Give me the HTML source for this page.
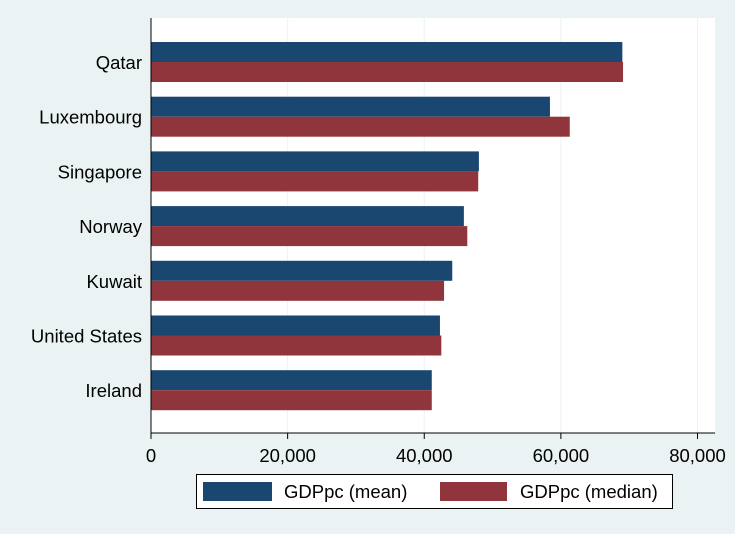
<!DOCTYPE html>
<html><head><meta charset="utf-8"><style>
html,body{margin:0;padding:0;background:#eaf2f3;}
svg{display:block;font-family:"Liberation Sans",Arial,sans-serif;}
</style></head><body>
<svg id="chart" width="735" height="534" viewBox="0 0 735 534" xmlns="http://www.w3.org/2000/svg">
<rect x="0" y="0" width="735" height="534" fill="#eaf2f3"/>
<rect x="151" y="18" width="564" height="415" fill="#ffffff"/>
<g id="grid"></g><g id="bars"></g><g id="axes"></g>
<g>
<rect x="196.5" y="474.5" width="476" height="34" fill="#fff" stroke="#000" stroke-width="1"/>
<g>
<rect x="203" y="482" width="69" height="19" fill="#1a476f"/>
<text x="284" y="498" font-size="18.5" fill="#000">GDPpc (mean)</text></g>
<g>
<rect x="440" y="482" width="67" height="19" fill="#90353b"/>
<text x="520" y="498" font-size="18.5" fill="#000">GDPpc (median)</text></g>
</g>
</svg>
<script>
const categories = ["Qatar","Luxembourg","Singapore","Norway","Kuwait","United States","Ireland"];
const meanValues = [69000,58400,48000,45800,44100,42300,41100];
const medianValues = [69100,61300,47900,46300,42900,42500,41100];
const xTicks = [0,20000,40000,60000,80000];
const xTickLabels = ["0","20,000","40,000","60,000","80,000"];

const NS="http://www.w3.org/2000/svg";
const x0=151, pxPer=(697.5-151)/80000;
function xs(v){return x0+v*pxPer;}
function yc(i){return 62+i*54.7;}
function mk(tag,attrs,parent){const e=document.createElementNS(NS,tag);for(const k in attrs)e.setAttribute(k,attrs[k]);parent.appendChild(e);return e;}
const grid=document.getElementById('grid'),bars=document.getElementById('bars'),axes=document.getElementById('axes');
xTicks.forEach((t,i)=>{
  const x=xs(t);
  if(i>0){const g=mk('line',{x1:x,x2:x,y1:18,y2:433,stroke:'#eef2f2','stroke-width':1},grid);
  
  }
  const tk=mk('line',{x1:x,x2:x,y1:433,y2:439,stroke:'#000','stroke-width':1},axes);
  
  
  const tx=mk('text',{x:x,y:462,'font-size':18.5,'text-anchor':'middle',fill:'#000'},axes);
  tx.textContent=xTickLabels[i];
  
  
});
categories.forEach((c,i)=>{
  const y=yc(i);
  const b1=mk('rect',{x:x0,y:y-20,width:xs(meanValues[i])-x0,height:20,fill:'#1a476f'},bars);
  
  
  const b2=mk('rect',{x:x0,y:y,width:xs(medianValues[i])-x0,height:20,fill:'#90353b'},bars);
  
  
  const lb=mk('text',{x:142,y:y+7,'font-size':18.5,'text-anchor':'end',fill:'#000'},axes);
  lb.textContent=c;
  
  
});
const ya=mk('line',{x1:151,x2:151,y1:18,y2:433,stroke:'#000','stroke-width':1},axes);


const xa=mk('line',{x1:151,x2:715,y1:433,y2:433,stroke:'#000','stroke-width':1},axes);


</script>
</body></html>
